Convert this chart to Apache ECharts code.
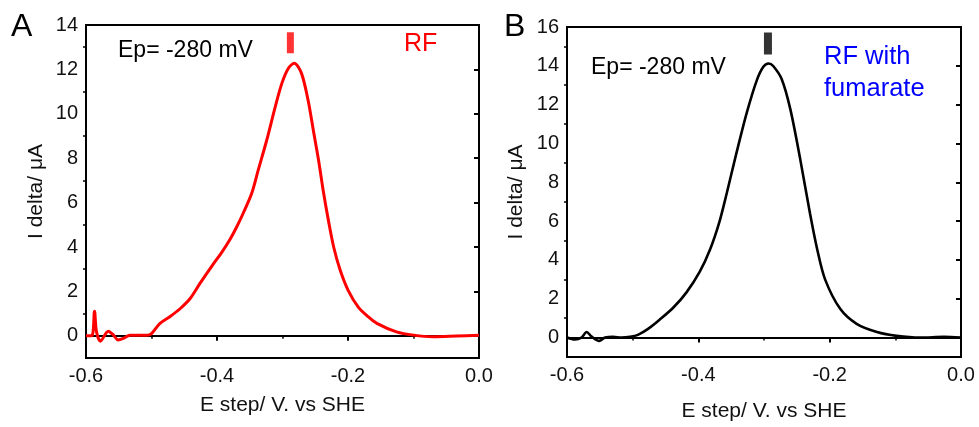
<!DOCTYPE html>
<html><head><meta charset="utf-8">
<script src="https://cdn.jsdelivr.net/npm/echarts@6/dist/echarts.min.js"></script>
<style>html,body{margin:0;padding:0;background:#fff}#c{width:979px;height:427px}</style>
</head><body><div id="c"></div>
<script>
// Panel A: RF
const potentialA = [-0.600,-0.591,-0.587,-0.584,-0.578,-0.566,-0.558,-0.551,-0.543,-0.533,-0.520,-0.507,-0.500,-0.487,-0.472,-0.456,-0.441,-0.426,-0.406,-0.393,-0.380,-0.370,-0.360,-0.347,-0.337,-0.324,-0.311,-0.301,-0.291,-0.282,-0.271,-0.261,-0.253,-0.245,-0.238,-0.230,-0.222,-0.212,-0.200,-0.184,-0.170,-0.156,-0.126,-0.100,-0.070,-0.034,0.000];
const currentA   = [0.00,0.00,1.11,0.18,-0.24,0.21,0.03,-0.19,-0.12,0.03,0.03,0.03,0.10,0.56,0.86,1.23,1.68,2.36,3.22,3.75,4.35,4.90,5.52,6.42,7.47,8.82,10.32,11.37,12.05,12.28,11.82,10.62,9.27,7.92,6.57,5.21,4.01,2.96,2.06,1.28,0.88,0.56,0.18,0.03,-0.04,-0.01,0.02];
// Panel B: RF with fumarate
const potentialB = [-0.600,-0.588,-0.578,-0.570,-0.563,-0.551,-0.542,-0.530,-0.517,-0.504,-0.492,-0.476,-0.459,-0.438,-0.418,-0.398,-0.382,-0.368,-0.357,-0.342,-0.326,-0.311,-0.301,-0.293,-0.286,-0.273,-0.260,-0.245,-0.230,-0.219,-0.207,-0.184,-0.159,-0.128,-0.098,-0.062,-0.026,0.000];
const currentB   = [0.00,-0.10,0.00,0.29,0.07,-0.17,0.00,0.04,0.00,0.04,0.14,0.46,0.92,1.55,2.33,3.38,4.55,5.95,7.40,9.50,11.61,13.25,13.95,14.12,13.99,13.31,11.78,9.22,6.40,4.55,3.00,1.48,0.71,0.29,0.09,0.00,0.04,0.00];
// Peak markers [potential, current]
const peakMarkA = [-0.288, 13.2];
const peakMarkB = [-0.294, 15.15];
// Tick labels
const xTicks  = [-0.6,-0.4,-0.2,0.0];
const yTicksA = [0,2,4,6,8,10,12,14];
const yMinorA = [1,3,5,7,9,11,13];
const yTicksB = [0,2,4,6,8,10,12,14,16];
const yMinorB = [1,3,5,7,9,11,13,15];
const panelLetters = ['A','B'];
const epText = 'Ep= -280 mV';
const sampleA = 'RF';
const sampleB = 'RF with\nfumarate';
const xTitle = 'E step/ V. vs SHE';
const yTitle = 'I delta/ μA';

const FONT = 'Liberation Sans, Arial, sans-serif';
const pair = (xs, ys) => xs.map((x, i) => [x, ys[i]]);

function xAxisFor(gi, gap) {
  return {
    type: 'value', gridIndex: gi, min: -0.6, max: 0, interval: 0.2,
    axisLine: {show: true, lineStyle: {color: '#000', width: 2}},
    axisTick: {show: true, length: 5, lineStyle: {color: '#000', width: 2}},
    minorTick: {show: true, splitNumber: 2, length: 3, lineStyle: {color: '#000', width: 1.5}},
    splitLine: {show: false},
    axisLabel: {color: '#111', fontSize: 20, fontFamily: FONT, margin: 8,
      customValues: xTicks, formatter: v => v.toFixed(1)},
    name: xTitle, nameLocation: 'middle', nameGap: gap,
    nameTextStyle: {color: '#111', fontSize: 21, fontFamily: FONT}
  };
}
function yAxesFor(gi, max, majors, minors, gap) {
  return [{
    type: 'value', gridIndex: gi, min: -1, max: max,
    axisLine: {show: true, lineStyle: {color: '#000', width: 2}},
    axisTick: {show: true, length: 5, customValues: majors, lineStyle: {color: '#000', width: 2}},
    splitLine: {show: false},
    axisLabel: {color: '#111', fontSize: 20, fontFamily: FONT, margin: 8, customValues: majors},
    name: yTitle, nameLocation: 'middle', nameGap: gap, nameRotate: 90,
    nameTextStyle: {color: '#111', fontSize: 21, fontFamily: FONT}
  }, {
    type: 'value', gridIndex: gi, min: -1, max: max, position: 'left',
    axisLine: {show: false},
    axisTick: {show: true, length: 3, customValues: minors, lineStyle: {color: '#000', width: 1.5}},
    splitLine: {show: false},
    axisLabel: {show: false}
  }];
}

const chart = echarts.init(document.getElementById('c'), null, {renderer: 'canvas'});
chart.setOption({
  animation: false,
  backgroundColor: '#fff',
  grid: [
    {left: 86, right: 500, top: 25, bottom: 69, show: true, borderColor: '#000', borderWidth: 2},
    {left: 567, right: 18, top: 27, bottom: 67, show: true, borderColor: '#000', borderWidth: 2}
  ],
  xAxis: [xAxisFor(0, 37), xAxisFor(1, 44)],
  yAxis: [...yAxesFor(0, 14, yTicksA, yMinorA, 39), ...yAxesFor(1, 16, yTicksB, yMinorB, 40)],
  series: [
    {type: 'line', xAxisIndex: 0, yAxisIndex: 0, data: pair(potentialA, currentA), showSymbol: false,
      smooth: 0.3, lineStyle: {color: '#ff0000', width: 3}},
    {type: 'scatter', xAxisIndex: 0, yAxisIndex: 0, data: [peakMarkA], symbol: 'rect',
      symbolSize: [7, 21], itemStyle: {color: '#ff0000'}},
    {type: 'line', xAxisIndex: 1, yAxisIndex: 2, data: pair(potentialB, currentB), showSymbol: false,
      smooth: 0.3, lineStyle: {color: '#000', width: 2.6}},
    {type: 'scatter', xAxisIndex: 1, yAxisIndex: 2, data: [peakMarkB], symbol: 'rect',
      symbolSize: [8, 22], itemStyle: {color: '#000'}}
  ],
  graphic: [
    {type: 'text', left: 11, top: 11, style: {text: panelLetters[0], font: '32px ' + FONT, fill: '#000'}},
    {type: 'text', left: 504, top: 11, style: {text: panelLetters[1], font: '32px ' + FONT, fill: '#000'}},
    {type: 'text', left: 118, top: 39, style: {text: epText, font: '23px ' + FONT, fill: '#000'}},
    {type: 'text', left: 404, top: 32, style: {text: sampleA, font: '25px ' + FONT, fill: '#ff0000'}},
    {type: 'text', left: 591, top: 56, style: {text: epText, font: '23px ' + FONT, fill: '#000'}},
    {type: 'text', left: 824, top: 41, style: {text: sampleB, font: '25.5px ' + FONT, fill: '#0000ff', lineHeight: 32}}
  ]
});
</script></body></html>
